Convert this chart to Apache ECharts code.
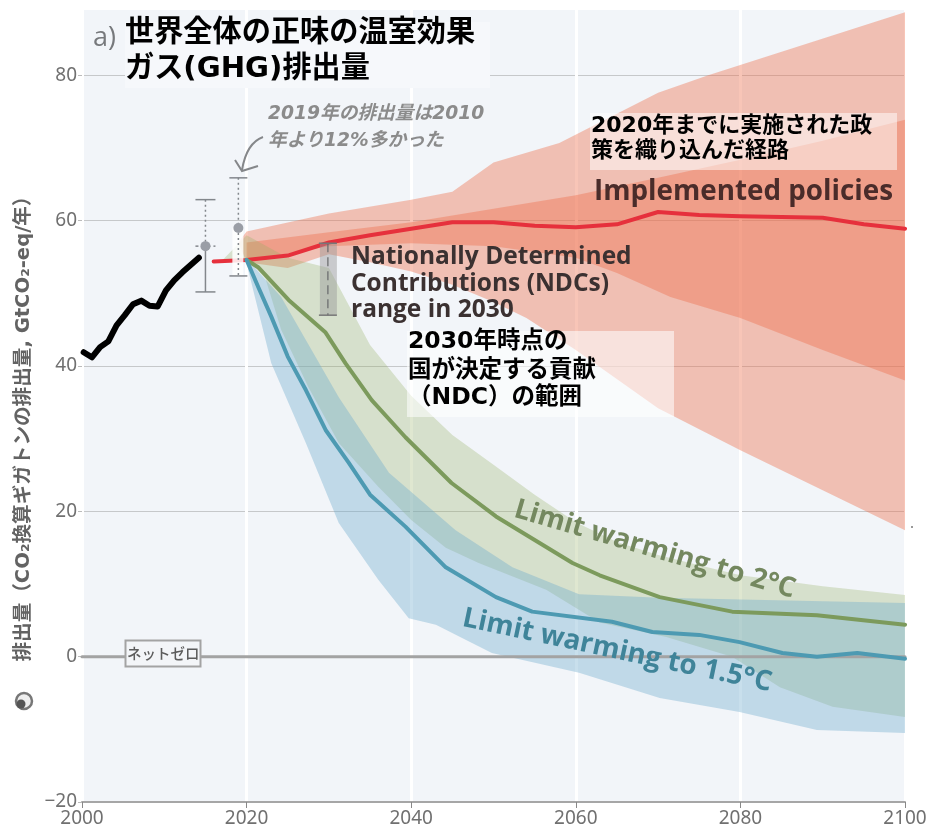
<!DOCTYPE html>
<html><head><meta charset="utf-8">
<style>html,body{margin:0;padding:0;background:#fff}#c{width:926px;height:832px}</style>
<script src="https://cdn.jsdelivr.net/npm/echarts@6/dist/echarts.min.js"></script>
</head><body><div id="c"></div>
<script>
const xTicks = [2000,2020,2040,2060,2080,2100];
const historical = [[2000.2,41.9],[2001.2,41.2],[2002.2,42.6],[2003.2,43.4],[2004.2,45.6],[2005.2,47],[2006.2,48.5],[2007.2,49],[2008.2,48.3],[2009.2,48.2],[2010.2,50.4],[2011.2,51.8],[2012.2,52.9],[2013.2,53.9],[2014.2,54.9]];
const policyLine = [[2016,54.4],[2020,54.6],[2025,55.2],[2030,57],[2035,58],[2040,58.9],[2045,59.8],[2050,59.8],[2055,59.3],[2060,59.1],[2065,59.5],[2070,61.2],[2075,60.8],[2080,60.6],[2090,60.4],[2095,59.5],[2100,58.9]];
const policyOuterUp = [[2019,57],[2020,58.5],[2030,61],[2040,62.9],[2045,64],[2050,68],[2058,70.7],[2070,77.6],[2076,80],[2100,88.7]];
const policyOuterLow = [[2020,54.3],[2025,53.5],[2030,55.4],[2035,54.3],[2040,53],[2045,51.2],[2050,48.8],[2054,46.6],[2060,42.2],[2070,34.2],[2080,28.4],[2090,22.9],[2100,17.4]];
const policyInnerUp = [[2020,57],[2030,58.4],[2040,59.8],[2060,63.5],[2070,65.9],[2080,68.4],[2090,71],[2100,73.9]];
const policyInnerLow = [[2020,54.5],[2030,56.5],[2040,56.9],[2050,56.5],[2060,54.9],[2065,52.8],[2071.5,49.5],[2080,46.6],[2090,42.2],[2100,38]];
const line2C = [[2020,54.6],[2021.4,53.6],[2025.1,49.1],[2029.6,44.6],[2032,40.4],[2035.2,35.3],[2039.3,30.2],[2044.9,23.9],[2050.3,19.3],[2059.6,12.9],[2062.9,11.2],[2070.2,8.2],[2079,6.2],[2089.3,5.7],[2100,4.4]];
const band2CUp = [[2017,54.5],[2020,58],[2025,54.9],[2030,53.5],[2035,42.9],[2040,35.9],[2045,30.5],[2050,26.4],[2055,22.3],[2060,18.5],[2065,15.8],[2070,14],[2075,12.6],[2080,11.2],[2090,9.7],[2100,8.5]];
const band2CLow = [[2020,54.8],[2022.3,52],[2024.2,45],[2027.5,37.1],[2031.2,29.4],[2036,23.4],[2040,18.8],[2044.2,15],[2048.2,12.9],[2056.4,9.2],[2062.9,4.7],[2071,2.7],[2079,0],[2084.8,-4.2],[2091.2,-6.9],[2100,-8.3]];
const line15C = [[2020,54.6],[2021.4,50.9],[2023,46.8],[2025,41.3],[2027.2,36.7],[2029.6,31.2],[2032.4,26.7],[2035,22.3],[2039.3,17.9],[2044.2,12.3],[2050.3,8.2],[2054.7,6.2],[2064.4,4.8],[2069.3,3.4],[2075,3],[2079.9,2],[2085.1,0.5],[2089.3,0],[2094.2,0.5],[2100,-0.3]];
const band15CUp = [[2020,54.8],[2024.2,49.5],[2027.2,43.6],[2031.2,35.7],[2037.3,25.3],[2045.4,17.4],[2052.3,12.3],[2060.4,8.6],[2070.2,8.1],[2100,7.4]];
const band15CLow = [[2020.2,53.2],[2023,40.4],[2027.2,29.4],[2031.2,18.4],[2036,10.6],[2039.7,5.3],[2043,4.4],[2049.8,0.5],[2060.4,-2.2],[2070.2,-5.7],[2079.9,-7.6],[2089.3,-10.1],[2100,-10.5]];
const netZero = [[2000,0],[2100,0]];
const errorBars = [[2015,50.2,56.5,62.9],[2019,52.4,59,65.9]];
const ndcRange = [[2030,47,56.9]];

const band = (up, low, fill, z) => {
  const pts = up.concat(low.slice().reverse());
  return {type:'custom', data:pts, z, silent:true, clip:true, encode:{x:0,y:1},
    renderItem:(p,api)=> p.dataIndex!==0 ? null : {type:'polygon',
      shape:{points:pts.map(d=>api.coord(d))}, style:{fill}}};
};
const line = (data,color,width,z) => ({type:'line',data,z,silent:true,symbol:'none',smooth:false,
  lineStyle:{color,width,join:'round',cap:'round'}});
const FONT = '"DejaVu Sans","Noto Sans CJK JP",sans-serif';
const LAT = '"Open Sans","Noto Sans",sans-serif';
const T = (text,x,y,font,fill,extra) => Object.assign({type:'text',x,y,z:100,silent:true,
  style:{text,font,fill,textVerticalAlign:'middle'}},extra||{});
const R = (x,y,w,h,fill,extra) => Object.assign({type:'rect',z:99,silent:true,shape:{x,y,width:w,height:h},style:{fill}},extra||{});

const errBar = {type:'custom',data:errorBars,z:8,silent:true,encode:{x:0,y:[1,2,3]},
  renderItem:(p,api)=>{
    const x=api.value(0), lo=api.coord([x,api.value(1)]), mid=api.coord([x,api.value(2)]), hi=api.coord([x,api.value(3)]);
    const cx=lo[0], first=p.dataIndex===0, c='#83878c', w=first?10:9;
    const kids=[];
    if(!first) kids.push({type:'rect',shape:{x:cx-6,y:mid[1],width:11,height:lo[1]-mid[1]},style:{fill:'rgba(255,255,255,0.85)'}});
    kids.push({type:'line',shape:{x1:cx,y1:hi[1],x2:cx,y2:mid[1]},style:{stroke:c,lineWidth:1.5,lineDash:[2,3]}});
    kids.push({type:'line',shape:{x1:cx,y1:mid[1],x2:cx,y2:lo[1]},style:first?{stroke:c,lineWidth:1.5}:{stroke:c,lineWidth:1.5,lineDash:[2,3]}});
    kids.push({type:'line',shape:{x1:cx-w,y1:hi[1],x2:cx+w,y2:hi[1]},style:{stroke:c,lineWidth:1.5}});
    kids.push({type:'line',shape:{x1:cx-w,y1:lo[1],x2:cx+w,y2:lo[1]},style:{stroke:c,lineWidth:1.5}});
    if(first) kids.push({type:'line',shape:{x1:cx-10,y1:mid[1],x2:cx+10,y2:mid[1]},style:{stroke:c,lineWidth:1.5,lineDash:[3,3]}});
    kids.push({type:'circle',shape:{cx,cy:mid[1],r:5},style:{fill:'#9a9ea6'}});
    return {type:'group',children:kids};
  }};
const ndcBar = {type:'custom',data:ndcRange,z:7,silent:true,encode:{x:0,y:[1,2]},
  renderItem:(p,api)=>{
    const x=api.value(0), lo=api.coord([x,api.value(1)]), hi=api.coord([x,api.value(2)]), cx=lo[0]-1;
    return {type:'group',children:[
      {type:'rect',shape:{x:cx-8,y:hi[1],width:17,height:lo[1]-hi[1]},style:{fill:'rgba(150,150,150,0.45)'}},
      {type:'line',shape:{x1:cx,y1:hi[1],x2:cx,y2:lo[1]},style:{stroke:'#66686a',lineWidth:1.2,lineDash:[9,5]}},
      {type:'line',shape:{x1:cx-9,y1:hi[1],x2:cx+9,y2:hi[1]},style:{stroke:'#777',lineWidth:1.5}},
      {type:'line',shape:{x1:cx-9,y1:lo[1],x2:cx+9,y2:lo[1]},style:{stroke:'#777',lineWidth:1.5}}
    ]};
  }};

const chart = echarts.init(document.getElementById('c'),null,{renderer:'canvas'});
chart.setOption({
  animation:false,
  backgroundColor:'#ffffff',
  grid:{show:true,left:82,right:21,top:10,bottom:30,backgroundColor:'#f2f5f9',borderWidth:0,outerBoundsMode:'none'},
  xAxis:{type:'value',min:2000,max:2100,interval:20,
    axisLine:{show:true,onZero:false,lineStyle:{color:'#a6a6a6',width:2}},
    axisTick:{show:true,length:6,lineStyle:{color:'#888',width:1}},
    axisLabel:{color:'#707070',fontFamily:'"Noto Sans",sans-serif',fontSize:19,margin:7,formatter:v=>String(v)},
    splitLine:{show:true,lineStyle:{color:'#ffffff',width:3}}},
  yAxis:{type:'value',min:-20,max:89,interval:20,
    axisLine:{show:false},
    axisTick:{show:true,length:4,lineStyle:{color:'#bbb'}},
    axisLabel:{color:'#707070',fontFamily:'"Noto Sans",sans-serif',fontSize:19,margin:5,showMaxLabel:false,
      formatter:v=>v<0?'\u2212'+Math.abs(v):String(v)},
    splitLine:{show:true,showMinLine:false,showMaxLine:false,lineStyle:{color:'#c6c8ca',width:1.2}}},
  series:[
    band(policyOuterUp,policyOuterLow,'rgba(238,110,75,0.40)',3),
    band(policyInnerUp,policyInnerLow,'rgba(238,110,75,0.40)',3),
    band(band2CUp,band2CLow,'rgba(150,175,100,0.30)',4),
    band(band15CUp,band15CLow,'rgba(110,170,205,0.38)',4),
    line(netZero,'#a3a3a3',3,5),
    ndcBar,
    line(policyLine,'#e6303c',4,6),
    line(line2C,'#7c9a5c',4,6),
    line(line15C,'#4d9ab2',4,6),
    line(historical,'#000000',6,6),
    errBar
  ],
  graphic:{elements:[
    R(125,22,365,66,'#f6f8fb'),
    T('a)',93,38,'400 27px '+LAT,'#77797c'),
    T('世界全体の正味の温室効果',125,33,'700 29.2px '+FONT,'#000'),
    T('ガス(GHG)排出量',125,69,'700 29.2px '+FONT,'#000'),
    T('2019年の排出量は2010',268,114,'italic 700 18.7px '+FONT,'#8b8b8b'),
    T('年より12%多かった',268,141,'italic 700 18.7px '+FONT,'#8b8b8b'),
    {type:'bezierCurve',z:100,silent:true,shape:{x1:263,y1:137,cpx1:252,cpy1:141,cpx2:245,cpy2:152,x2:242,y2:170},
      style:{stroke:'#85878a',lineWidth:2,fill:null}},
    {type:'polyline',z:100,silent:true,shape:{points:[[235,160],[242,171],[258,166]]},
      style:{stroke:'#85878a',lineWidth:2,fill:null}},
    R(590,113,307,57,'rgba(255,255,255,0.5)'),
    T('2020年までに実施された政',591,126,'700 22px '+FONT,'#000'),
    T('策を織り込んだ経路',591,151,'700 22px '+FONT,'#000'),
    T('Implemented policies',594,192,'700 27.8px '+LAT,'#4a2c2a'),
    T('Nationally Determined',351,257,'700 24.5px '+LAT,'#3b3131'),
    T('Contributions (NDCs)',351,284,'700 24.5px '+LAT,'#3b3131'),
    T('range in 2030',351,310,'700 24.5px '+LAT,'#3b3131'),
    R(407,331,267,86,'rgba(255,255,255,0.55)'),
    T('2030年時点の',408,342,'700 23.5px '+FONT,'#000'),
    T('国が決定する貢献',408,371,'700 23.5px '+FONT,'#000'),
    T('（NDC）の範囲',408,398,'700 23.5px '+FONT,'#000'),
    T('Limit warming to 2°C',515,509,'700 27.8px '+LAT,'#74885f',{rotation:-0.283}),
    T('Limit warming to 1.5°C',463,618,'700 27.8px '+LAT,'#3f8499',{rotation:-0.209}),
    R(125.5,640.5,75,26,'#f3f5f8',{style:{fill:'#f3f5f8',stroke:'#a3a3a3',lineWidth:2}}),
    T('ネットゼロ',127,653,'500 14.5px "Noto Sans CJK JP",sans-serif','#5c5c5c'),
    {type:'text',x:24,y:424,z:100,silent:true,rotation:Math.PI/2,
      style:{text:'排出量（CO₂換算ギガトンの排出量, GtCO₂-eq/年）',font:'700 19.6px '+FONT,fill:'#636363',textAlign:'center',textVerticalAlign:'middle'}},
    {type:'circle',z:100,silent:true,shape:{cx:24,cy:701,r:8},style:{fill:'#eee',stroke:'#777',lineWidth:2.5}},
    {type:'circle',z:100,silent:true,shape:{cx:21,cy:704,r:4.5},style:{fill:'#555'}},
    {type:'circle',z:100,silent:true,shape:{cx:912,cy:527,r:1},style:{fill:'#777'}}
  ]}
});
</script></body></html>
